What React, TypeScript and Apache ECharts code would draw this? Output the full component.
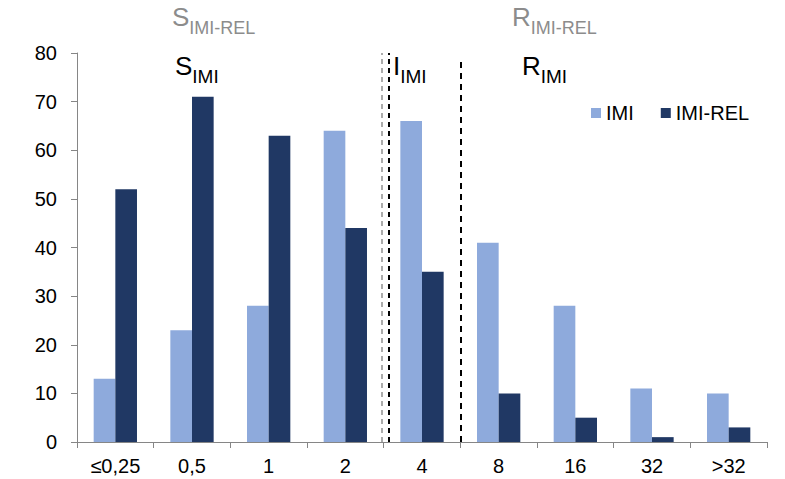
import React, { useEffect, useRef } from "react";
import * as echarts from "echarts";

const categories = ["≤0,25", "0,5", "1", "2", "4", "8", "16", "32", ">32"];
const imiValues = [13, 23, 28, 64, 66, 41, 28, 11, 10];
const imiRelValues = [52, 71, 63, 44, 35, 10, 5, 1, 3];
const yTicks = { min: 0, max: 80, interval: 10 };
// breakpoint positions in category units (0..9)
const grayBreak = 3.98;
const blackBreak1 = 4.06;
const blackBreak2 = 5.0;

const FONT = "Liberation Sans, Arial, sans-serif";

export default function App() {
  const ref = useRef<HTMLDivElement>(null);
  useEffect(() => {
    if (!ref.current) return;
    const chart = echarts.init(ref.current, undefined, { renderer: "svg" });
    const sub = (big: number, small: number, color: string) => ({
      a: { fontSize: big, color, fontFamily: FONT, fontWeight: "normal", verticalAlign: "bottom", padding: [0, 0, Math.round(big * 0.25), 0] },
      b: { fontSize: small, color, fontFamily: FONT, fontWeight: "normal", verticalAlign: "bottom" },
    });
    const ts = (color: string, small: number) => ({ fontWeight: "normal", fontFamily: FONT, rich: sub(26, small, color) });
    chart.setOption({
      animation: false,
      textStyle: { fontFamily: FONT },
      grid: { left: 77, right: 18, top: 53, bottom: 37, containLabel: false },
      title: [
        { text: "{a|S}{b|IMI-REL}", left: 167, top: -1, textStyle: ts("#8c8c8c", 18) },
        { text: "{a|R}{b|IMI-REL}", left: 507, top: -1, textStyle: ts("#8c8c8c", 18) },
        { text: "{a|S}{b|IMI}", left: 170, top: 48, textStyle: ts("#000", 19) },
        { text: "{a|I}{b|IMI}", left: 388, top: 48, textStyle: ts("#000", 19) },
        { text: "{a|R}{b|IMI}", left: 517, top: 48, textStyle: ts("#000", 19) },
      ],
      legend: {
        data: ["IMI", "IMI-REL"],
        left: 591,
        top: 103,
        padding: 0,
        icon: "rect",
        itemWidth: 10,
        itemHeight: 10,
        itemGap: 27,
        textStyle: { fontSize: 20, color: "#000", fontFamily: FONT },
      },
      xAxis: [
        {
          type: "category",
          data: categories,
          axisLine: { lineStyle: { color: "#868686", width: 1 } },
          axisTick: { show: true, length: 6, lineStyle: { color: "#868686" } },
          axisLabel: { fontSize: 20, color: "#000", margin: 14, fontFamily: FONT },
          splitLine: { show: false },
        },
        { type: "value", min: 0, max: 9, interval: 1, show: false },
      ],
      yAxis: {
        type: "value",
        min: yTicks.min,
        max: yTicks.max,
        interval: yTicks.interval,
        axisLine: { show: true, lineStyle: { color: "#868686", width: 1 } },
        axisTick: { show: true, length: 6, lineStyle: { color: "#868686" } },
        axisLabel: { fontSize: 20, color: "#000", margin: 20, fontFamily: FONT },
        splitLine: { show: false },
      },
      series: [
        {
          name: "IMI",
          type: "bar",
          data: imiValues,
          itemStyle: { color: "#8eaadc" },
          barGap: "0%",
          barCategoryGap: "43.5%",
        },
        {
          name: "IMI-REL",
          type: "bar",
          data: imiRelValues,
          itemStyle: { color: "#203864" },
          barGap: "0%",
          barCategoryGap: "43.5%",
        },
        {
          name: "breaks",
          type: "line",
          xAxisIndex: 1,
          yAxisIndex: 0,
          data: [],
          clip: false,
          silent: true,
          markLine: {
            silent: true,
            symbol: ["none", "none"],
            label: { show: false },
            data: [
              [
                { coord: [grayBreak, 0], lineStyle: { color: "#909090", width: 1.5, type: [5, 4] } },
                { coord: [grayBreak, 80] },
              ],
              [
                { coord: [blackBreak1, 0], lineStyle: { color: "#000", width: 2, type: [5, 4] } },
                { coord: [blackBreak1, 80] },
              ],
              [
                { coord: [blackBreak2, 0], lineStyle: { color: "#000", width: 2, type: [6, 5] } },
                { coord: [blackBreak2, 78.9] },
              ],
            ],
          },
        },
      ],
    });
    return () => chart.dispose();
  }, []);
  return <div ref={ref} style={{ width: 785, height: 479, position: "absolute", left: 0, top: 0 }} />;
}
